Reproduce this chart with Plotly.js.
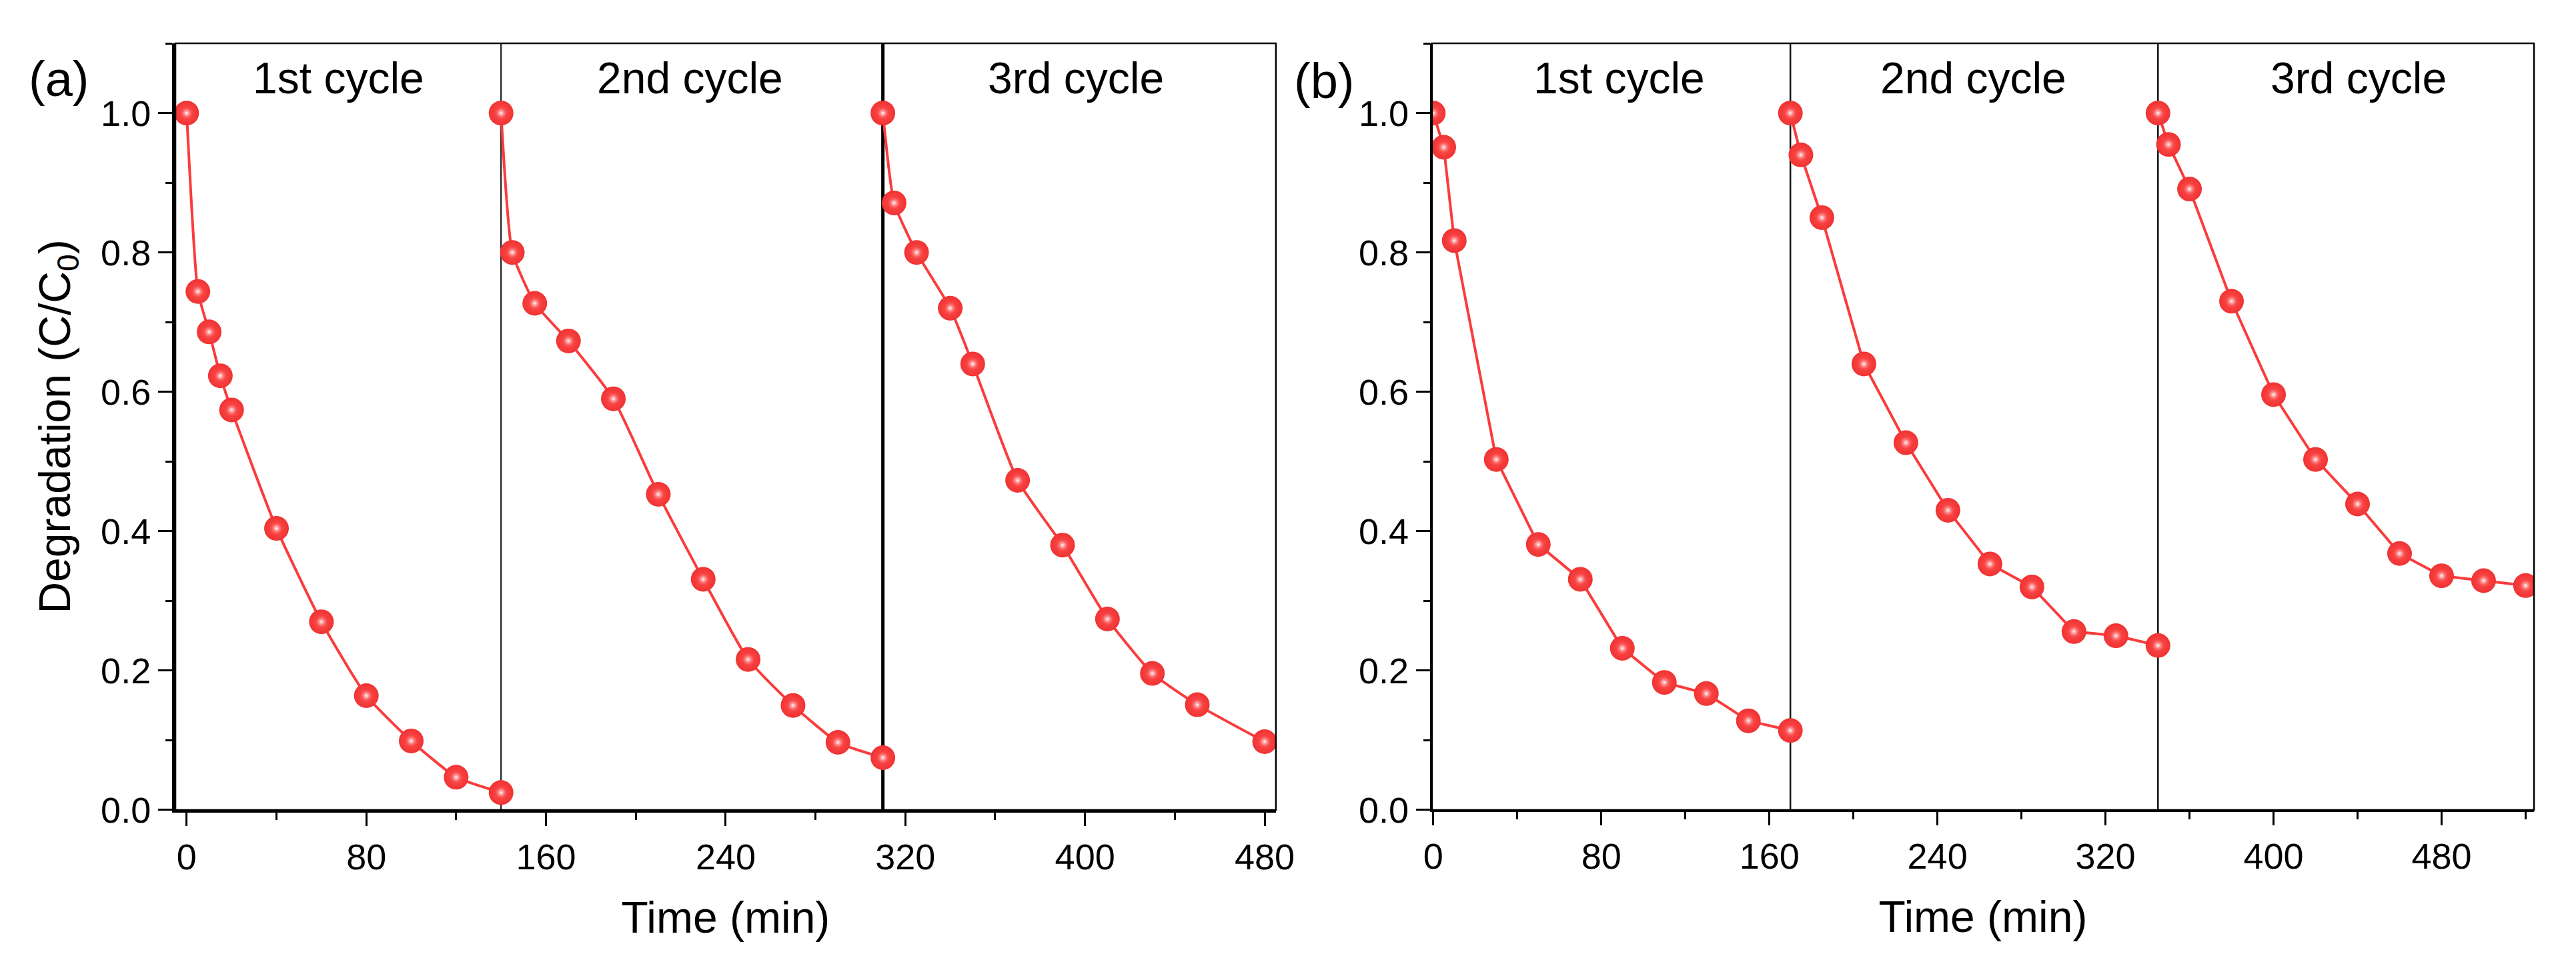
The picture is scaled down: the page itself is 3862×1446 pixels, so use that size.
<!DOCTYPE html>
<html>
<head>
<meta charset="utf-8">
<script src="https://cdn.plot.ly/plotly-3.0.1.min.js"></script>
<style>
  html, body { margin: 0; padding: 0; background: #ffffff; }
  #chart { width: 3862px; height: 1446px; }
</style>
</head>
<body>
<div id="chart"></div>
<script>
// ---------- data ----------
// Panel (a)
const timeA1 = [0, 5, 10, 15, 20, 40, 60, 80, 100, 120, 140];
const degA1  = [1.000, 0.744, 0.686, 0.623, 0.574, 0.404, 0.270, 0.164, 0.099, 0.047, 0.025];
const timeA2 = [140, 145, 155, 170, 190, 210, 230, 250, 270, 290, 310];
const degA2  = [1.000, 0.800, 0.727, 0.673, 0.590, 0.453, 0.331, 0.216, 0.150, 0.097, 0.075];
const timeA3 = [310, 315, 325, 340, 350, 370, 390, 410, 430, 450, 480];
const degA3  = [1.000, 0.871, 0.800, 0.720, 0.640, 0.473, 0.380, 0.274, 0.196, 0.151, 0.098];
// Panel (b)
const timeB1 = [0, 5, 10, 30, 50, 70, 90, 110, 130, 150, 170];
const degB1  = [1.000, 0.951, 0.817, 0.503, 0.381, 0.331, 0.232, 0.183, 0.167, 0.128, 0.114];
const timeB2 = [170, 175, 185, 205, 225, 245, 265, 285, 305, 325, 345];
const degB2  = [1.000, 0.940, 0.850, 0.640, 0.527, 0.430, 0.353, 0.320, 0.256, 0.250, 0.236];
const timeB3 = [345, 350, 360, 380, 400, 420, 440, 460, 480, 500, 520];
const degB3  = [1.000, 0.955, 0.891, 0.730, 0.596, 0.503, 0.439, 0.368, 0.336, 0.329, 0.322];

// cycle boundaries and labels
const cycleBoundsA = [140, 310];
const cycleBoundsB = [170, 345];
const cycleLabels = ['1st cycle', '2nd cycle', '3rd cycle'];
const panelLabels = ['(a)', '(b)'];
const xTitle = 'Time (min)';
const yTitle = 'Degradation (C/C<sub>0</sub>)';

// ---------- styles ----------
const FONT = 'Liberation Sans, Arial, Helvetica, sans-serif';
const RED = '#fa3c3c';
const RED_DARK = '#f03232';

function cycleTrace(x, y, xa, ya, shape) {
  return {
    type: 'scatter', mode: 'lines+markers', x: x, y: y,
    xaxis: xa, yaxis: ya, showlegend: false,
    line: { color: RED, width: 4, shape: shape, smoothing: 0.5 },
    marker: {
      size: 37, color: RED_DARK,
      gradient: { type: 'radial', color: '#ff5050' },
      line: { width: 0 }
    },
    hoverinfo: 'x+y'
  };
}
function shineTrace(x, y, xa, ya) {
  return {
    type: 'scatter', mode: 'markers', x: x, y: y,
    xaxis: xa, yaxis: ya, showlegend: false, hoverinfo: 'skip',
    marker: {
      size: 19, color: 'rgba(255,90,90,0)',
      gradient: { type: 'radial', color: '#ffffff' },
      line: { width: 0 }
    }
  };
}

const series = [
  [timeA1, degA1, 'x', 'y', 'spline'],
  [timeA2, degA2, 'x', 'y', 'spline'],
  [timeA3, degA3, 'x', 'y', 'spline'],
  [timeB1, degB1, 'x2', 'y2', 'linear'],
  [timeB2, degB2, 'x2', 'y2', 'linear'],
  [timeB3, degB3, 'x2', 'y2', 'linear']
];
const data = [];
series.forEach(function (s) { data.push(cycleTrace(s[0], s[1], s[2], s[3], s[4])); });
series.forEach(function (s) { data.push(shineTrace(s[0], s[1], s[2], s[3])); });

function xAxis(domain, anchor, range, lw) {
  return {
    domain: domain, anchor: anchor, range: range,
    tick0: 0, dtick: 80, ticks: 'outside', ticklen: 20, tickwidth: 3, tickcolor: '#000',
    showline: true, linewidth: lw, linecolor: '#000',
    showgrid: false, zeroline: false,
    minor: { dtick: 40, ticks: 'outside', ticklen: 11, tickwidth: 3, tickcolor: '#000', showgrid: false },
    tickfont: { family: FONT, size: 54, color: '#000' },
    title: { text: xTitle, font: { family: FONT, size: 66, color: '#000' }, standoff: 40 }
  };
}
function yAxis(domain, anchor, lw, title) {
  const ax = {
    domain: domain, anchor: anchor, range: [0, 1.1],
    tick0: 0, dtick: 0.2, tickformat: '.1f',
    ticks: 'outside', ticklen: 21, tickwidth: 3, tickcolor: '#000',
    showline: true, linewidth: lw, linecolor: '#000',
    showgrid: false, zeroline: false,
    minor: { dtick: 0.1, ticks: 'outside', ticklen: 10, tickwidth: 3, tickcolor: '#000', showgrid: false },
    tickfont: { family: FONT, size: 54, color: '#000' }
  };
  if (title) ax.title = { text: title, font: { family: FONT, size: 66, color: '#000' }, standoff: 26 };
  return ax;
}

const yDom = [0.1598, 0.9550];
const shapes = [];
// frames
[['x', 'y', 2.5], ['x2', 'y2', 2.5]].forEach(function (f) {
  shapes.push({ type: 'rect', xref: f[0] + ' domain', yref: f[1] + ' domain',
    x0: 0, x1: 1, y0: 0, y1: 1, line: { color: '#000', width: f[2] }, layer: 'above' });
});
// cycle separators
const sepStyleA = [{ color: '#333333', width: 2.5 }, { color: '#000000', width: 5 }];
cycleBoundsA.forEach(function (b, i) {
  shapes.push({ type: 'line', xref: 'x', yref: 'y domain', x0: b, x1: b, y0: 0, y1: 1,
    line: sepStyleA[i], layer: 'below' });
});
cycleBoundsB.forEach(function (b) {
  shapes.push({ type: 'line', xref: 'x2', yref: 'y2 domain', x0: b, x1: b, y0: 0, y1: 1,
    line: { color: '#111111', width: 2.5 }, layer: 'below' });
});

const labelXA = [67.5, 224, 396];
const labelXB = [88.5, 257, 440.5];
const annotations = [];
cycleLabels.forEach(function (t, i) {
  annotations.push({ text: t, xref: 'x', yref: 'y', x: labelXA[i], y: 1.05,
    showarrow: false, xanchor: 'center', yanchor: 'middle',
    font: { family: FONT, size: 66, color: '#000' } });
  annotations.push({ text: t, xref: 'x2', yref: 'y2', x: labelXB[i], y: 1.05,
    showarrow: false, xanchor: 'center', yanchor: 'middle',
    font: { family: FONT, size: 66, color: '#000' } });
});
annotations.push({ text: panelLabels[0], xref: 'paper', yref: 'paper', x: 0.0228, y: 0.918,
  showarrow: false, xanchor: 'center', yanchor: 'middle',
  font: { family: FONT, size: 74, color: '#000' } });
annotations.push({ text: panelLabels[1], xref: 'paper', yref: 'paper', x: 0.514, y: 0.916,
  showarrow: false, xanchor: 'center', yanchor: 'middle',
  font: { family: FONT, size: 74, color: '#000' } });

const layout = {
  width: 3862, height: 1446,
  margin: { l: 0, r: 0, t: 0, b: 0, pad: 0 },
  paper_bgcolor: '#ffffff', plot_bgcolor: '#ffffff',
  showlegend: false,
  xaxis: xAxis([0.0681, 0.4953], 'y', [-5, 485], 4),
  yaxis: yAxis(yDom, 'x', 5, yTitle),
  xaxis2: xAxis([0.5559, 0.9837], 'y2', [-0.6, 524], 3),
  yaxis2: yAxis(yDom, 'x2', 3, null),
  shapes: shapes,
  annotations: annotations,
  font: { family: FONT, color: '#000' }
};

Plotly.newPlot('chart', data, layout, { displayModeBar: false, staticPlot: true });
</script>
</body>
</html>
